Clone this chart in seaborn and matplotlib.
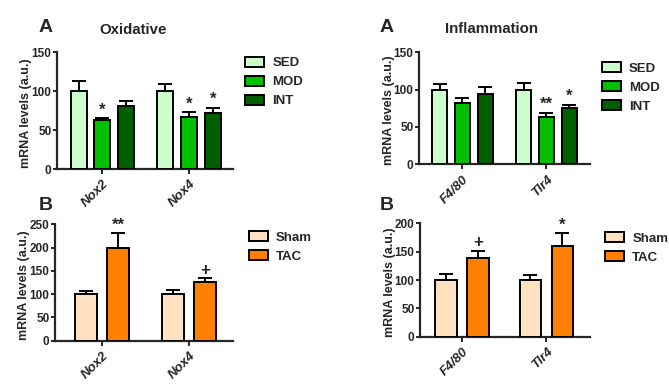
import matplotlib
matplotlib.use("Agg")
import matplotlib.pyplot as plt
import numpy as np
import pandas as pd
import seaborn as sns

# data
ox_genes = ["Nox2", "Nox4"]
inf_genes = ["F4/80", "Tlr4"]
ex_groups = ["SED", "MOD", "INT"]
tac_groups = ["Sham", "TAC"]

ox_ex_mean = {"SED": [100, 100], "MOD": [63, 67], "INT": [81, 72]}
ox_ex_top = {"SED": [113, 109], "MOD": [65, 73], "INT": [87, 79]}
ox_ex_sig = {"SED": ["", ""], "MOD": ["*", "*"], "INT": ["", "*"]}

ox_tac_mean = {"Sham": [100, 100], "TAC": [200, 126]}
ox_tac_top = {"Sham": [106, 108], "TAC": [231, 134]}
ox_tac_sig = {"Sham": ["", ""], "TAC": ["**", "+"]}

inf_ex_mean = {"SED": [100, 100], "MOD": [82, 64], "INT": [94, 75]}
inf_ex_top = {"SED": [108, 109], "MOD": [89, 69], "INT": [103, 80]}
inf_ex_sig = {"SED": ["", ""], "MOD": ["", "**"], "INT": ["", "*"]}

inf_tac_mean = {"Sham": [100, 100], "TAC": [138, 160]}
inf_tac_top = {"Sham": [111, 108], "TAC": [152, 183]}
inf_tac_sig = {"Sham": ["", ""], "TAC": ["+", "*"]}

ex_colors = ["#ccffcc", "#00c000", "#006000"]
tac_colors = ["#ffe0c0", "#ff8000"]

sns.set_theme(style="ticks")
plt.rcParams["font.family"] = ["Liberation Sans", "DejaVu Sans"]
plt.rcParams["font.weight"] = "bold"


def to_frame(genes, groups, means):
    rows = []
    for g in groups:
        for gene, v in zip(genes, means[g]):
            rows.append({"gene": gene, "group": g, "value": v})
    return pd.DataFrame(rows)


def panel(fig, rect, genes, groups, means, tops, sigs, colors, width, ymax,
          ystep, xlim, leg_xy):
    ax = fig.add_axes(rect)
    df = to_frame(genes, groups, means)
    sns.barplot(data=df, x="gene", y="value", hue="group", order=genes,
                hue_order=groups, palette=colors, saturation=1, width=width,
                gap=0.33, edgecolor="black", linewidth=1.4, errorbar=None,
                ax=ax, zorder=3)

    # one sided SEM bars + significance marks
    for g, cont in zip(groups, ax.containers):
        for i, bar in enumerate(cont.patches):
            x = bar.get_x() + bar.get_width() / 2
            v = means[g][i]
            t = tops[g][i]
            ax.errorbar(x, v, yerr=[[0], [t - v]], color="black",
                        elinewidth=1.4, capsize=5, capthick=1.4, zorder=2)
            if sigs[g][i]:
                ax.text(x, t + ymax * 0.005, sigs[g][i], ha="center",
                        va="bottom", fontsize=12, fontweight="bold")

    ax.set_ylim(0, ymax)
    ax.set_xlim(*xlim)
    ax.set_yticks(np.arange(0, ymax + 1, ystep))
    ax.tick_params(axis="y", labelsize=8.5, width=1.4, length=3, pad=1)
    ax.tick_params(axis="x", width=1.4, length=3.5, pad=3)
    ax.set_xticks(range(len(genes)))
    ax.set_xticklabels(genes, rotation=45, ha="right", rotation_mode="anchor",
                       fontsize=9.5, fontstyle="italic", fontweight="bold")
    for lab in ax.get_yticklabels():
        lab.set_fontweight("bold")
    ax.set_xlabel("")
    ax.set_ylabel("mRNA levels (a.u.)", fontsize=9, fontweight="bold")
    ax.yaxis.set_label_coords(-0.14, 0.48)
    sns.despine(ax=ax)
    for s in ["left", "bottom"]:
        ax.spines[s].set_linewidth(1.6)

    sns.move_legend(ax, loc="upper left", bbox_to_anchor=leg_xy,
                    frameon=False, title=None, fontsize=9.5,
                    handlelength=1.45, handleheight=0.75, handletextpad=0.6,
                    labelspacing=0.5, borderpad=0, borderaxespad=0)
    for h in ax.get_legend().legend_handles:
        h.set_edgecolor("black")
        h.set_linewidth(1.4)
    return ax


fig = plt.figure(figsize=(6.69, 3.88), dpi=100)

panel(fig, [0.0852, 0.5644, 0.2631, 0.3008], ox_genes, ex_groups,
      ox_ex_mean, ox_ex_top, ox_ex_sig, ex_colors, 0.83, 150, 50,
      (-0.526, 1.51), (1.07, 0.96))
panel(fig, [0.0822, 0.1219, 0.2661, 0.3000], ox_genes, tac_groups,
      ox_tac_mean, ox_tac_top, ox_tac_sig, tac_colors, 0.75, 250, 50,
      (-0.54, 1.506), (1.09, 0.94))
panel(fig, [0.6263, 0.5765, 0.2556, 0.2887], inf_genes, ex_groups,
      inf_ex_mean, inf_ex_top, inf_ex_sig, ex_colors, 0.82, 150, 50,
      (-0.518, 1.518), (1.07, 0.91))
panel(fig, [0.6278, 0.1322, 0.2541, 0.2923], inf_genes, tac_groups,
      inf_tac_mean, inf_tac_top, inf_tac_sig, tac_colors, 0.757, 200, 50,
      (-0.497, 1.515), (1.09, 0.92))

fig.text(46 / 669, 1 - 27 / 388, "A", fontsize=14, fontweight="bold",
         ha="center", va="center")
fig.text(133 / 669, 1 - 30 / 388, "Oxidative", fontsize=10.8,
         fontweight="bold", ha="center", va="center")
fig.text(46 / 669, 1 - 205 / 388, "B", fontsize=14, fontweight="bold",
         ha="center", va="center")
fig.text(387 / 669, 1 - 27 / 388, "A", fontsize=14, fontweight="bold",
         ha="center", va="center")
fig.text(492 / 669, 1 - 29 / 388, "Inflammation", fontsize=10.8,
         fontweight="bold", ha="center", va="center")
fig.text(387 / 669, 1 - 205 / 388, "B", fontsize=14, fontweight="bold",
         ha="center", va="center")

fig.savefig("out.png", dpi=100, facecolor="white")
